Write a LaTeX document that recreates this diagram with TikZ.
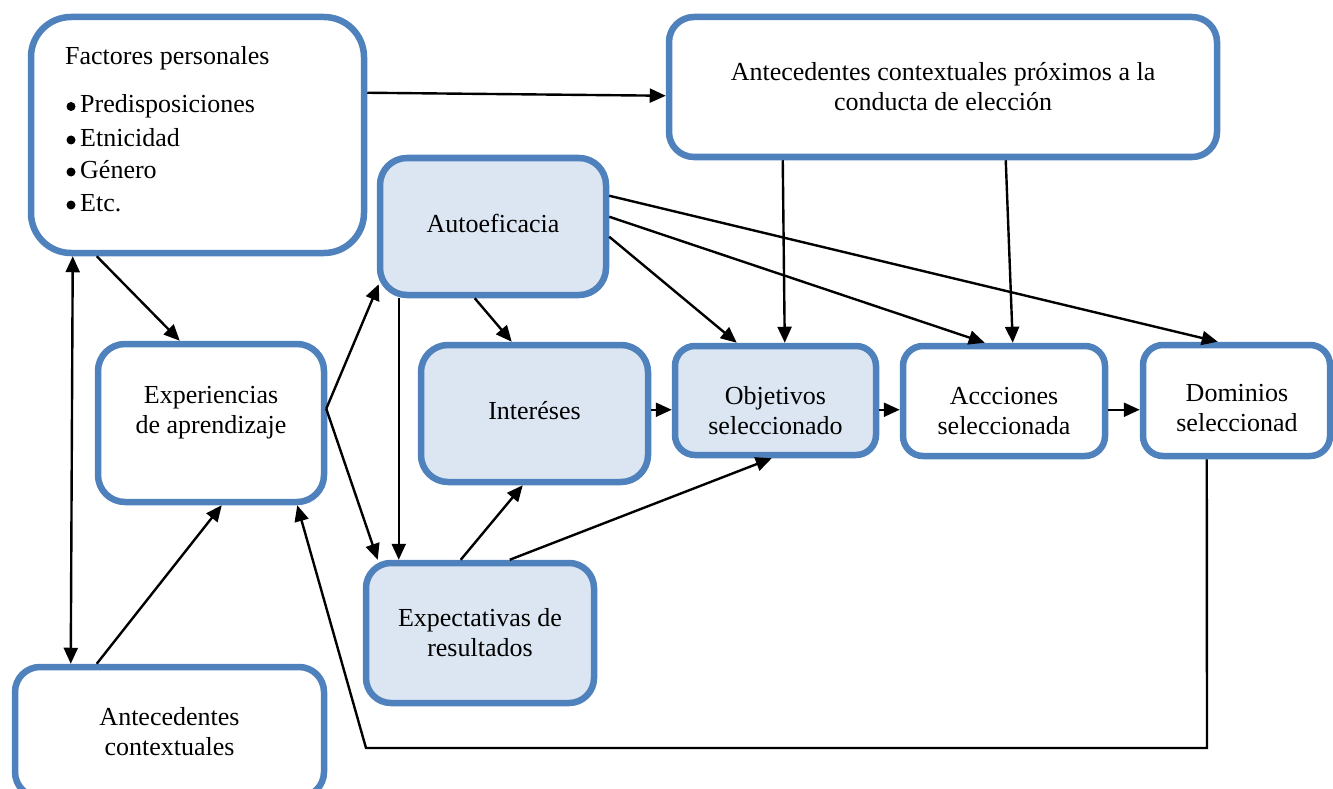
\documentclass[tikz,border=0pt]{standalone}
\usepackage{fontspec}
\setmainfont{Liberation Serif}
\usetikzlibrary{arrows.meta,calc}
\definecolor{bord}{HTML}{4F81BD}
\definecolor{lfill}{HTML}{DCE6F2}
\begin{document}
\begin{tikzpicture}[x=1pt,y=-1pt,
  box/.style={draw=bord,line width=6.5pt,fill=white,align=center,
    font=\fontsize{26}{30}\selectfont,inner sep=0pt},
  sbox/.style={box,fill=lfill},
  txt/.style={font=\fontsize{26}{30}\selectfont,inner sep=0pt,align=center},
  line/.style={txt,anchor=base west},
  bullet/.style={fill=black},
  tip/.tip={Triangle[length=16pt,width=14pt]},
  arr/.style={line width=2.4pt,-tip},
  darr/.style={line width=2.4pt,tip-tip}]
\useasboundingbox (0,0) rectangle (1333,789);

% boxes
\node[box,rounded corners=40pt,minimum width=333pt,minimum height=236pt] (fp) at (197.5,135) {};
\node[line] (fptitle) at (65,65) {Factores personales};
\node[line] (fp1) at (80,113) {Predisposiciones};
\node[line] (fp2) at (80,146.5) {Etnicidad};
\node[line] (fp3) at (80,178.5) {Género};
\node[line] (fp4) at (80,211.5) {Etc.};
\foreach \l in {fp1,fp2,fp3,fp4}
  \fill[bullet] ($(\l.base west)+(-9,-6.5)$) circle (4.5);
\node[box,rounded corners=25pt,minimum width=548pt,minimum height=140pt] (acp) at (943,87)
  {Antecedentes contextuales próximos a la\\conducta de elección};
\node[sbox,rounded corners=27pt,minimum width=226pt,minimum height=137pt] (auto) at (493,226.5) {};
\node[txt] (autotext) at (493,223.5) {Autoeficacia};
\node[sbox,rounded corners=27pt,minimum width=227pt,minimum height=137pt] (int) at (534.5,413.5) {};
\node[txt] (inttext) at (534.5,410.5) {Interéses};
\node[box,rounded corners=27pt,minimum width=226pt,minimum height=158pt] (expa) at (211,423) {};
\node[txt] (expatext) at (211,413) {Experiencias\\de aprendizaje};
\node[sbox,rounded corners=20pt,minimum width=201pt,minimum height=109pt] (obj) at (775.5,400.5) {};
\node[txt] (objtext) at (775.5,410.5) {Objetivos\\seleccionado};
\node[box,rounded corners=20pt,minimum width=202pt,minimum height=110pt] (acc) at (1004,401) {};
\node[txt] (acctext) at (1004,411) {Accciones\\seleccionada};
\node[box,rounded corners=20pt,minimum width=187pt,minimum height=111pt] (dom) at (1236.5,400.5) {};
\node[txt] (domtext) at (1237,408.5) {Dominios\\seleccionad};
\node[sbox,rounded corners=25pt,minimum width=228pt,minimum height=140pt] (expr) at (480,633) {Expectativas de\\resultados};
\node[box,rounded corners=25pt,minimum width=309pt,minimum height=130pt] (ac) at (169.5,732) {Antecedentes\\contextuales};

% connectors
\draw[arr] ($(fp.north east)+(0,79)$) -- ($(acp.north west)+(0,82)$);
\draw[arr] ($(fp.south west)+(69,0)$) -- ($(expa.north west)+(85,0)$);
\draw[darr] ($(fp.south west)+(45,0)$) -- ($(ac.north west)+(59,0)$);
\draw[arr] ($(ac.north west)+(85,0)$) -- ($(expa.south west)+(127,0)$);
\coordinate (r1) at (1207,748);
\coordinate (r2) at (366,748);
\draw[arr] ($(dom.south west)+(67,0)$) -- (r1) -- (r2) -- ($(expa.south east)+(-30,0)$);
\coordinate (v) at ($(expa.north east)+(-1,68)$);
\draw[arr] (v) -- ($(auto.south west)+(2,-14)$);
\draw[arr] (v) -- ($(expr.north west)+(15,0)$);
\draw[arr] ($(auto.south west)+(22,0)$) -- ($(expr.north west)+(36,0)$);
\draw[arr] ($(auto.south west)+(98,0)$) -- ($(int.north west)+(94,0)$);
\draw[arr] ($(auto.north east)+(0,82)$) -- ($(obj.north west)+(65,0)$);
\draw[arr] ($(auto.north east)+(0,62)$) -- ($(acc.north west)+(85,0)$);
\draw[arr] ($(auto.north east)+(0,41)$) -- ($(dom.north west)+(78,0)$);
\draw[arr] ($(acp.south west)+(117,0)$) -- ($(obj.north west)+(113,0)$);
\draw[arr] ($(acp.south west)+(340,0)$) -- ($(acc.north west)+(113,0)$);
\draw[arr] ($(int.north east)+(0,68)$) -- ($(obj.north west)+(0,67)$);
\draw[arr] ($(obj.north east)+(0,67)$) -- ($(acc.north west)+(0,67)$);
\draw[arr] ($(acc.north east)+(0,67)$) -- ($(dom.north west)+(0,68)$);
\draw[arr] ($(expr.north west)+(98,0)$) -- ($(int.south west)+(105,0)$);
\draw[arr] ($(expr.north west)+(147,0)$) -- ($(obj.south west)+(100,0)$);
\end{tikzpicture}
\end{document}
